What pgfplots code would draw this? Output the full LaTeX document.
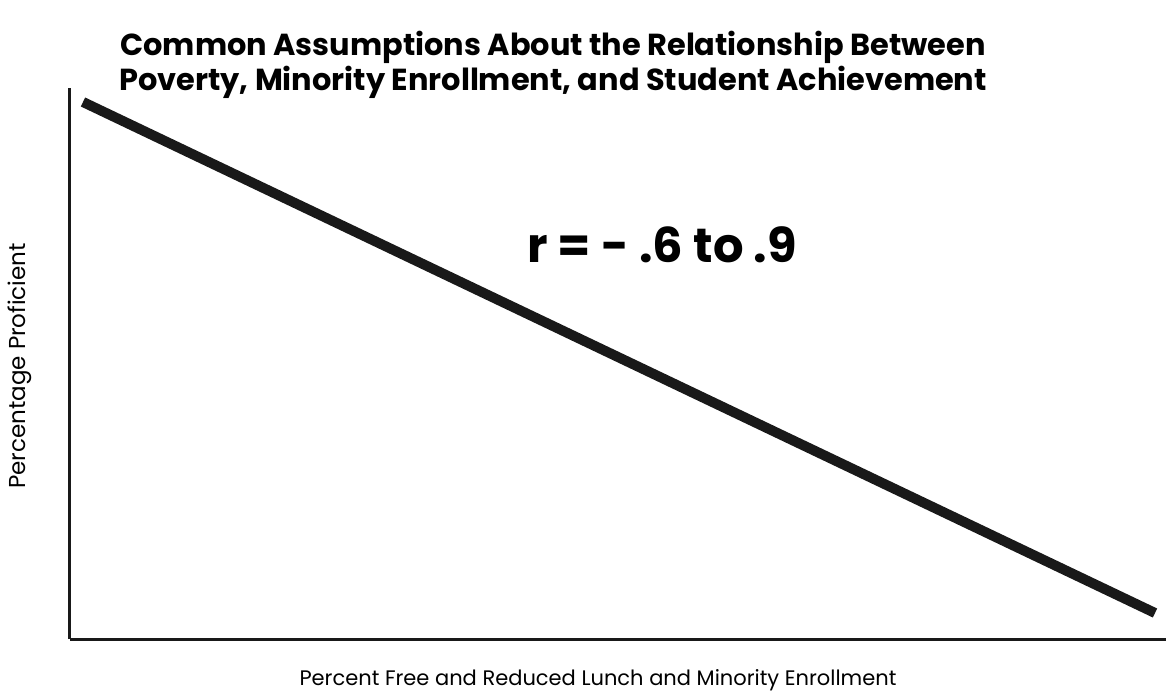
\documentclass[border=0pt]{standalone}
\usepackage{pgfplots}
\pgfplotsset{compat=1.18}
\usepackage{fontspec}
\setmainfont{Poppins}
\begin{document}
\begin{tikzpicture}
\path[use as bounding box] (0,0) rectangle (583pt,346pt);
\begin{axis}[
  at={(35pt,26.5pt)}, anchor=south west,
  scale only axis, width=548pt, height=275.5pt,
  xmin=0, xmax=1096, ymin=0, ymax=551,
  axis x line=bottom, axis y line=left,
  axis line style={-, line width=1.5pt, black!90},
  ticks=none,
  clip=false,
]
\addplot[line width=5pt, black!90] coordinates {(13,537) (1085,26)};
\end{axis}
\node[align=center, font=\bfseries\fontsize{15.2}{16}\selectfont] at (276.5pt,313.5pt) {Common Assumptions About the Relationship Between\\Poverty, Minority Enrollment, and Student Achievement};
\node[font=\bfseries\fontsize{24}{28}\selectfont] at (331pt,223.5pt) {r = - .6 to .9};
\node[font=\fontsize{10.5}{12}\selectfont] at (299pt,6pt) {Percent Free and Reduced Lunch and Minority Enrollment};
\node[rotate=90, font=\fontsize{11.5}{12}\selectfont] at (10pt,163pt) {Percentage Proficient};
\end{tikzpicture}
\end{document}
